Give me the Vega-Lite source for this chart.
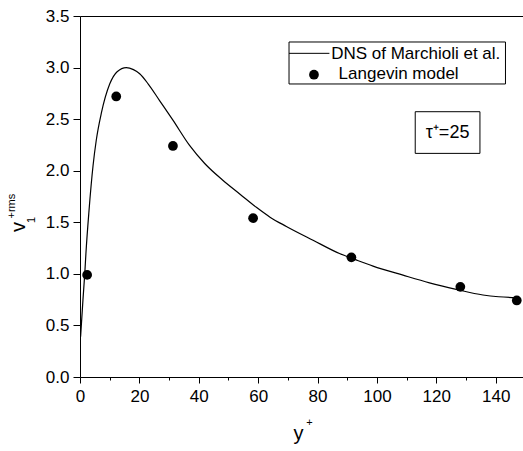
{
  "$schema": "https://vega.github.io/schema/vega-lite/v6.json",
  "width": 443,
  "height": 361,
  "autosize": {"type": "none"},
  "padding": {"left": 80, "top": 16, "right": 0, "bottom": 74},
  "background": "white",
  "config": {
    "view": {"stroke": null},
    "font": "Liberation Sans",
    "axis": {
      "grid": false,
      "domainColor": "black",
      "domainWidth": 1,
      "tickColor": "black",
      "tickWidth": 1,
      "labelColor": "black",
      "labelFont": "Liberation Sans",
      "labelFontSize": 17,
      "labelFlush": false,
      "labelOverlap": false
    }
  },
  "datasets": {
    "dns": [
      {"x": 0.2, "y": 0.39}, {"x": 1.0, "y": 0.75}, {"x": 1.6, "y": 1.0}, {"x": 2.0, "y": 1.2},
      {"x": 3.0, "y": 1.6}, {"x": 4.4, "y": 2.05}, {"x": 5.5, "y": 2.3}, {"x": 7.2, "y": 2.56},
      {"x": 10.0, "y": 2.84}, {"x": 12.5, "y": 2.96}, {"x": 15.6, "y": 3.0}, {"x": 18.0, "y": 2.98},
      {"x": 20.1, "y": 2.94}, {"x": 23.0, "y": 2.84}, {"x": 26.8, "y": 2.68}, {"x": 31.3, "y": 2.49},
      {"x": 36.9, "y": 2.245}, {"x": 42.0, "y": 2.07}, {"x": 48.0, "y": 1.91}, {"x": 54.0, "y": 1.77},
      {"x": 59.4, "y": 1.645}, {"x": 64.0, "y": 1.55}, {"x": 69.5, "y": 1.46},
      {"x": 78.5, "y": 1.326}, {"x": 87.4, "y": 1.197}, {"x": 93.0, "y": 1.135}, {"x": 98.7, "y": 1.075},
      {"x": 108.8, "y": 0.987}, {"x": 117.7, "y": 0.913}, {"x": 126.7, "y": 0.85}, {"x": 135.7, "y": 0.795},
      {"x": 141.0, "y": 0.778}, {"x": 147.1, "y": 0.77}
    ],
    "langevin": [
      {"x": 2.4, "y": 0.99}, {"x": 12.2, "y": 2.72}, {"x": 31.3, "y": 2.24}, {"x": 58.3, "y": 1.54},
      {"x": 91.4, "y": 1.16}, {"x": 128.1, "y": 0.874}, {"x": 147.1, "y": 0.742}
    ],
    "boxes": [
      {"name": "legend", "x": 70.4, "x2": 143.3, "y": 3.248, "y2": 2.841},
      {"name": "tau", "x": 112.9, "x2": 134.7, "y": 2.572, "y2": 2.168}
    ],
    "legline": [{"x": 70.4, "x2": 84.0, "y": 3.138}],
    "legdot": [{"x": 78.8, "y": 2.931}],
    "legtext": [
      {"label": "DNS of Marchioli et al.", "x": 84.6, "y": 3.08},
      {"label": "Langevin model", "x": 87.1, "y": 2.886}
    ],
    "tautext": [{"label": "τ⁺=25", "x": 123.8, "y": 2.314}],
    "titles_main": [
      {"label": "y", "x": 73.6, "y": -0.611, "angle": 0},
      {"label": "v", "x": -18.6, "y": 1.454, "angle": 270}
    ],
    "titles_small": [
      {"label": "+", "x": 76.2, "y": -0.475, "angle": 0},
      {"label": "1", "x": -15.25, "y": 1.493, "angle": 270},
      {"label": "+rms", "x": -21.8, "y": 1.537, "angle": 270}
    ]
  },
  "layer": [
    {
      "data": {"name": "dns"},
      "mark": {"type": "line", "color": "black", "strokeWidth": 1.2, "interpolate": "monotone"},
      "encoding": {
        "x": {
          "field": "x", "type": "quantitative",
          "scale": {"domain": [0, 149.2], "nice": false, "zero": false},
          "axis": {
            "orient": "bottom", "title": null,
            "values": [0, 10, 20, 30, 40, 50, 60, 70, 80, 90, 100, 110, 120, 130, 140],
            "labelExpr": "datum.value % 20 === 0 ? datum.label : ''",
            "tickSize": {"condition": {"test": "datum.value % 20 === 0", "value": 6}, "value": 3},
            "labelPadding": 5
          }
        },
        "y": {
          "field": "y", "type": "quantitative",
          "scale": {"domain": [0, 3.5], "nice": false},
          "axis": {
            "title": null,
            "values": [0, 0.25, 0.5, 0.75, 1, 1.25, 1.5, 1.75, 2, 2.25, 2.5, 2.75, 3, 3.25, 3.5],
            "format": ".1f",
            "labelExpr": "abs(datum.value * 2 - round(datum.value * 2)) < 0.001 ? datum.label : ''",
            "tickSize": {"condition": {"test": "abs(datum.value * 2 - round(datum.value * 2)) < 0.001", "value": 7}, "value": 4},
            "labelPadding": 4
          }
        }
      }
    },
    {
      "data": {"name": "langevin"},
      "mark": {"type": "circle", "color": "black", "opacity": 1, "size": 95},
      "encoding": {
        "x": {"field": "x", "type": "quantitative", "scale": {"domain": [0, 149.2], "nice": false, "zero": false}, "axis": null},
        "y": {"field": "y", "type": "quantitative", "scale": {"domain": [0, 3.5], "nice": false}}
      }
    },
    {
      "data": {"name": "boxes"},
      "mark": {"type": "rect", "fill": null, "stroke": "black", "strokeWidth": 1},
      "encoding": {
        "x": {"field": "x", "type": "quantitative", "scale": {"domain": [0, 149.2], "nice": false, "zero": false},
          "axis": {"orient": "top", "labels": false, "ticks": false, "domain": true, "title": null}},
        "x2": {"field": "x2"},
        "y": {"field": "y", "type": "quantitative", "scale": {"domain": [0, 3.5], "nice": false}},
        "y2": {"field": "y2"}
      }
    },
    {
      "data": {"name": "legline"},
      "mark": {"type": "rule", "color": "black", "strokeWidth": 1},
      "encoding": {
        "x": {"field": "x", "type": "quantitative", "scale": {"domain": [0, 149.2], "nice": false, "zero": false}, "axis": null},
        "x2": {"field": "x2"},
        "y": {"field": "y", "type": "quantitative", "scale": {"domain": [0, 3.5], "nice": false}}
      }
    },
    {
      "data": {"name": "legdot"},
      "mark": {"type": "circle", "color": "black", "opacity": 1, "size": 95},
      "encoding": {
        "x": {"field": "x", "type": "quantitative", "scale": {"domain": [0, 149.2], "nice": false, "zero": false}, "axis": null},
        "y": {"field": "y", "type": "quantitative", "scale": {"domain": [0, 3.5], "nice": false}}
      }
    },
    {
      "data": {"name": "legtext"},
      "mark": {"type": "text", "align": "left", "baseline": "alphabetic", "fontSize": 17, "color": "black", "font": "Liberation Sans"},
      "encoding": {
        "x": {"field": "x", "type": "quantitative", "scale": {"domain": [0, 149.2], "nice": false, "zero": false}, "axis": null},
        "y": {"field": "y", "type": "quantitative", "scale": {"domain": [0, 3.5], "nice": false}},
        "text": {"field": "label"}
      }
    },
    {
      "data": {"name": "tautext"},
      "mark": {"type": "text", "align": "center", "baseline": "alphabetic", "fontSize": 18, "color": "black", "font": "Liberation Sans"},
      "encoding": {
        "x": {"field": "x", "type": "quantitative", "scale": {"domain": [0, 149.2], "nice": false, "zero": false}, "axis": null},
        "y": {"field": "y", "type": "quantitative", "scale": {"domain": [0, 3.5], "nice": false}},
        "text": {"field": "label"}
      }
    },
    {
      "data": {"name": "titles_main"},
      "mark": {"type": "text", "align": "center", "baseline": "alphabetic", "fontSize": 20, "color": "black", "font": "Liberation Sans"},
      "encoding": {
        "x": {"field": "x", "type": "quantitative", "scale": {"domain": [0, 149.2], "nice": false, "zero": false}, "axis": null},
        "y": {"field": "y", "type": "quantitative", "scale": {"domain": [0, 3.5], "nice": false}},
        "angle": {"field": "angle", "type": "quantitative", "scale": null},
        "text": {"field": "label"}
      }
    },
    {
      "data": {"name": "titles_small"},
      "mark": {"type": "text", "align": "left", "baseline": "alphabetic", "fontSize": 11, "color": "black", "font": "Liberation Sans"},
      "encoding": {
        "x": {"field": "x", "type": "quantitative", "scale": {"domain": [0, 149.2], "nice": false, "zero": false}, "axis": null},
        "y": {"field": "y", "type": "quantitative", "scale": {"domain": [0, 3.5], "nice": false}},
        "angle": {"field": "angle", "type": "quantitative", "scale": null},
        "text": {"field": "label"}
      }
    }
  ],
  "resolve": {"axis": {"x": "independent"}}
}
